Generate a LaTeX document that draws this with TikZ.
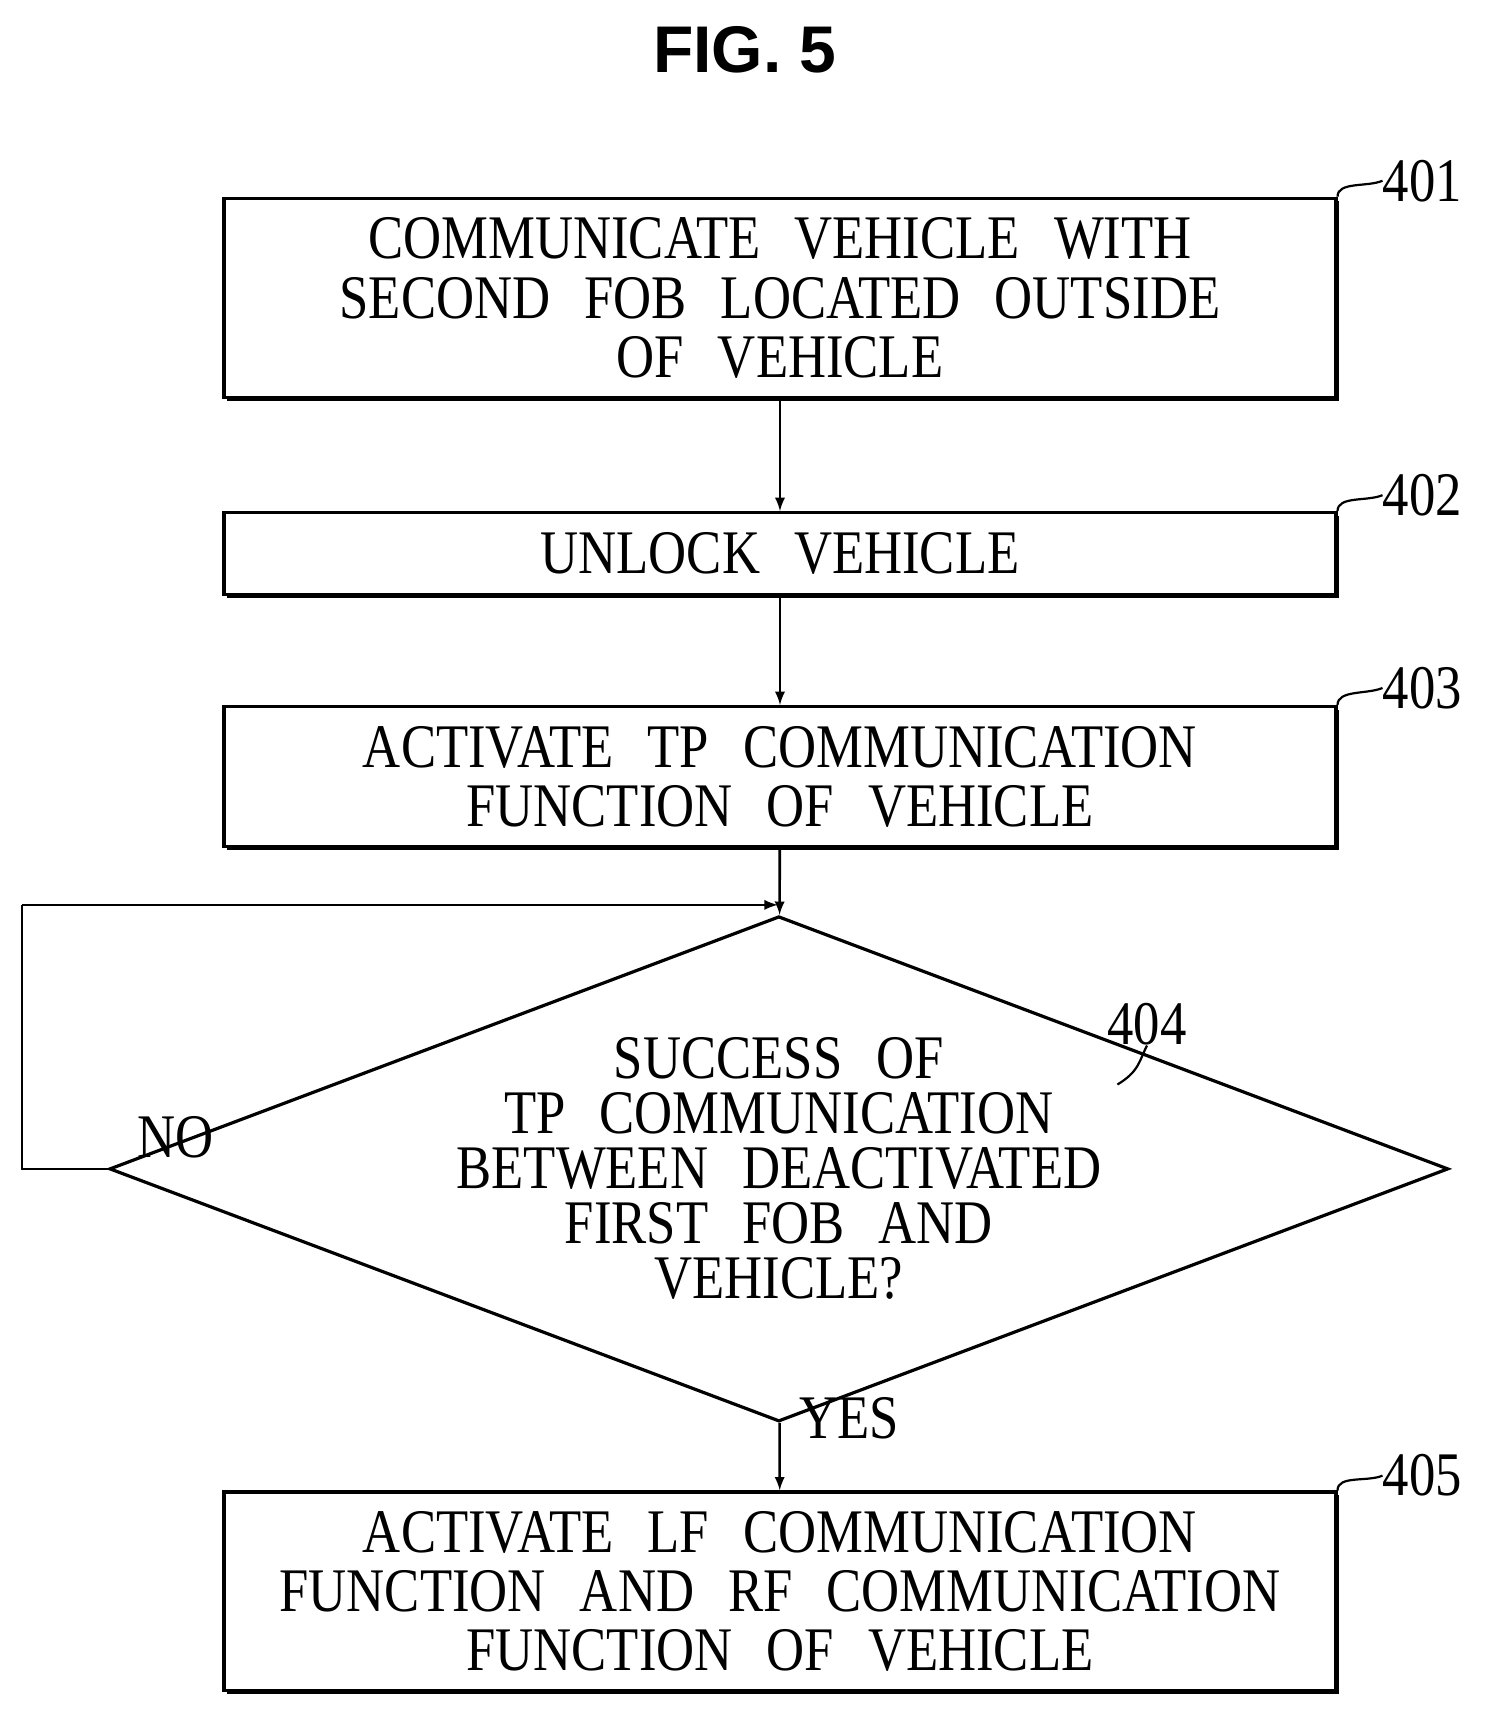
\documentclass[tikz,border=0pt]{standalone}
\usepackage{fontspec}
\setmainfont{Liberation Serif}[FakeStretch=0.85]
\newfontfamily\titlefont{Liberation Sans}
\usetikzlibrary{shapes.geometric,shadows}
\newcommand{\boxfont}{\fontsize{31}{29.6}\selectfont\spaceskip=17pt\relax}
\newcommand{\condfont}{\fontsize{31}{27.5}\selectfont\spaceskip=17pt\relax}
\begin{document}
\begin{tikzpicture}[x=0.5478pt,y=-0.5478pt]
    \tikzstyle{stage}=[draw=black, line width=1.6pt, fill=white, minimum width=556pt, align=center, inner sep=0pt,
        drop shadow={shadow xshift=1.6pt, shadow yshift=-1.6pt, opacity=1, fill=black},
        font=\boxfont]
    \tikzstyle{cond}=[draw=black, line width=1.6pt, diamond, minimum width=552pt, minimum height=208pt, aspect=2.65,
        inner sep=0pt, align=center, font=\condfont]
    \tikzstyle{tag}=[font=\fontsize{31}{31}\selectfont, inner sep=0pt]
    \useasboundingbox (0,0) rectangle (1360,1571);

    \node[font=\titlefont\bfseries\fontsize{33}{33}\selectfont] (title) at (680,45) {FIG. 5};

    \node[stage, minimum height=99.7pt] (s401) at (712,272) {COMMUNICATE VEHICLE WITH\\SECOND FOB LOCATED OUTSIDE\\OF VEHICLE};
    \node[stage, minimum height=41.1pt] (s402) at (712,505.5) {UNLOCK VEHICLE};
    \node[stage, minimum height=70.1pt] (s403) at (712,709) {ACTIVATE TP COMMUNICATION\\FUNCTION OF VEHICLE};
    \node[cond] (s404) at (711,1067) {SUCCESS OF\\TP COMMUNICATION\\BETWEEN DEACTIVATED\\FIRST FOB AND\\VEHICLE?};
    \node[stage, minimum height=99.2pt] (s405) at (712,1452.5) {ACTIVATE LF COMMUNICATION\\FUNCTION AND RF COMMUNICATION\\FUNCTION OF VEHICLE};

    \node[tag, anchor=west] (t401) at (1262,165) {401};
    \node[tag, anchor=west] (t402) at (1262,452) {402};
    \node[tag, anchor=west] (t403) at (1262,628) {403};
    \node[tag] (t404) at (1047,935) {404};
    \node[tag, anchor=west] (t405) at (1262,1347) {405};
    \node[tag] (no) at (160,1038) {NO};
    \node[tag] (yes) at (775,1295) {YES};
    \coordinate (loopa) at (20,1067);
    \coordinate (loopb) at (20,826);
    \coordinate (loopc) at (710,826);

    \tikzstyle{fwd} = [draw=black, line width=1.3pt, -latex]
    \tikzstyle{lead} = [draw=black, line width=1.1pt]

          \draw [fwd] (s401) -- (s402);
          \draw [fwd] (s402) -- (s403);
          \draw [fwd] (s403) -- (s404);
          \draw [fwd] (s404) -- (s405);
          \draw [lead] (s404.west) -- (loopa) -- (loopb);
          \draw [fwd] (loopb) -- (loopc);
          \foreach \s in {401,402,403,405}
            \draw [lead] (s\s.north east) .. controls +(0,-14) and +(-14,6) .. (t\s.west);
          \draw [lead] (1020,990) .. controls (1040,978) and (1040,968) .. (t404.south);
\end{tikzpicture}
\end{document}
